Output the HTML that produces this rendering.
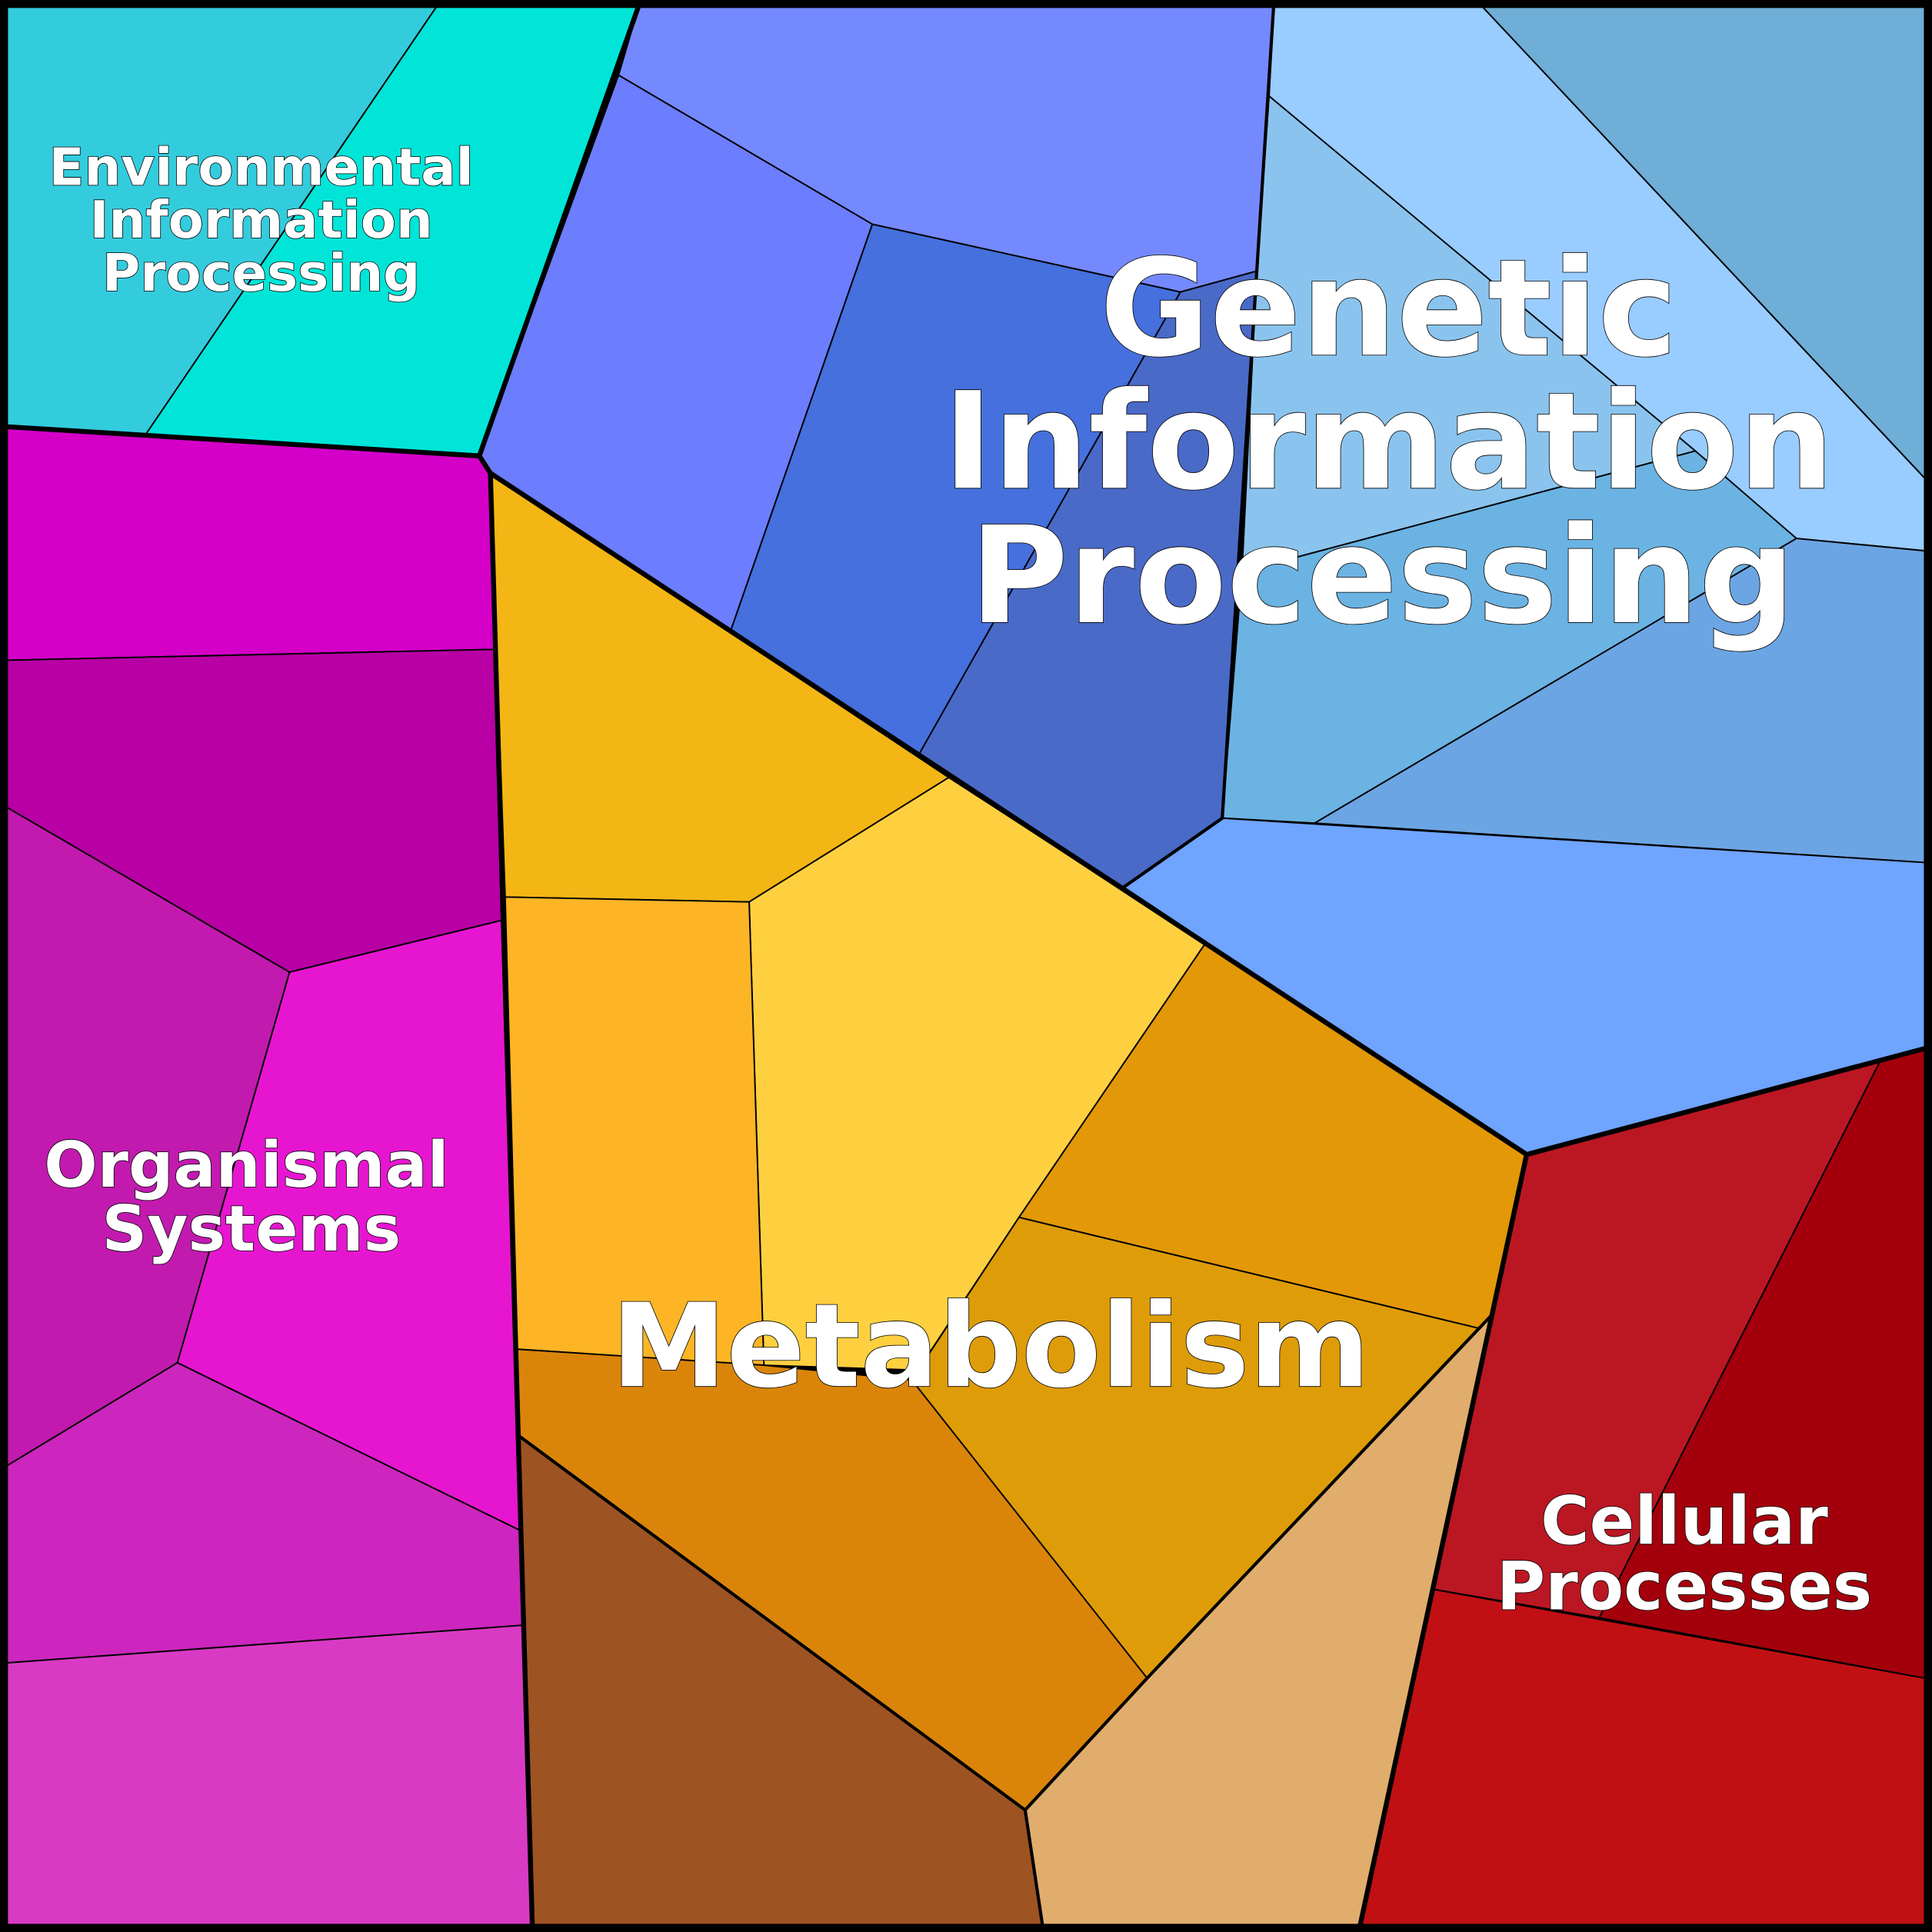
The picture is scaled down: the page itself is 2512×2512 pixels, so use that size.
<!DOCTYPE html>
<html><head><meta charset="utf-8"><style>
html,body{margin:0;padding:0;background:#000}
svg{display:block}
text{font-family:"DejaVu Sans","Liberation Sans",sans-serif;font-weight:bold;fill:#fff;text-anchor:middle}
</style></head><body>
<svg width="2512" height="2512" viewBox="0 0 1568 1568" xmlns="http://www.w3.org/2000/svg">
<g stroke="#000" stroke-width="1.2" stroke-linejoin="round">
<polygon fill="#33CCDD" points="0,0 358,0 118,353 0,346"/>
<polygon fill="#00E5D8" points="358,0 520,0 389,370 118,353"/>
<polygon fill="#7589FF" points="520,0 1034,0 1020,220 958,237 708,182 502,61"/>
<polygon fill="#6C7DFD" points="502,61 708,182 593,512 398,384 389,370"/>
<polygon fill="#4570DD" points="708,182 958,237 746,612 593,512"/>
<polygon fill="#4A6AC8" points="958,237 1020,220 992,664 912,720 746,612"/>
<polygon fill="#99CCFF" points="1034,0 1198,0 1562,388 1562,447 1458,437 1030,78"/>
<polygon fill="#6FAED6" points="1198,0 1562,0 1562,388"/>
<polygon fill="#8AC4EE" points="1030,78 1376,366 1008,464 1020,220"/>
<polygon fill="#6BB3E3" points="1008,464 1376,366 1458,437 1067,668 992,664"/>
<polygon fill="#6CA5E3" points="1458,437 1562,447 1562,700 1067,668"/>
<polygon fill="#6FA4FF" points="992,664 1562,700 1562,851 1239,937 912,720"/>
<polygon fill="#F3B614" points="398,384 770,631 608,732 410,728"/>
<polygon fill="#FED040" points="608,732 770,631 978,766 827,988 745,1112 620,1108"/>
<polygon fill="#FDB526" points="410,728 608,732 620,1108 420,1095"/>
<polygon fill="#E39808" points="978,766 1239,937 1210,1068 1200,1078 827,988"/>
<polygon fill="#DE9C08" points="827,988 1200,1078 1210,1068 931,1362 740,1120"/>
<polygon fill="#DA850A" points="420,1095 620,1108 740,1120 931,1362 832,1469 422,1166"/>
<polygon fill="#9E5323" points="422,1166 832,1469 846,1562 432,1562"/>
<polygon fill="#E0AD6D" points="1210,1068 1104,1562 846,1562 832,1469 931,1362"/>
<polygon fill="#BA1723" points="1239,937 1527,859 1298,1313 1164,1290"/>
<polygon fill="#A3000C" points="1527,859 1562,851 1562,1362 1298,1313"/>
<polygon fill="#C11014" points="1164,1290 1562,1362 1562,1562 1104,1562"/>
<polygon fill="#D400C8" points="0,346 389,370 398,384 401,527 0,536"/>
<polygon fill="#B800A5" points="0,536 401,527 407,747 235,789 0,652"/>
<polygon fill="#C21AAF" points="0,652 235,789 144,1106 0,1193"/>
<polygon fill="#E616D0" points="235,789 407,747 422,1242 144,1106"/>
<polygon fill="#CC26BE" points="0,1193 144,1106 422,1242 425,1319 0,1350"/>
<polygon fill="#D93AC4" points="0,1350 425,1319 432,1562 0,1562"/>
</g>
<g fill="none" stroke="#000" stroke-linejoin="round" stroke-linecap="round">
<polyline stroke-width="2.6" points="1034,0 1020,220 992,664 912,720"/>
<polyline stroke-width="2.6" points="422,1166 832,1469 931,1362 1210,1068"/>
<polyline stroke-width="2.6" points="832,1469 846,1562"/>
<polyline stroke-width="4" points="520,0 389,370 0,346"/>
<polyline stroke-width="4" points="389,370 398,384 432,1562"/>
<polyline stroke-width="4" points="398,384 1239,937 1562,851"/>
<polyline stroke-width="4" points="1239,937 1104,1562"/>
<rect x="3" y="3" width="1562" height="1562" stroke-width="7"/>
</g>
<g stroke="#000" stroke-width="1" paint-order="stroke">
<text font-size="42" x="212" y="150">Environmental</text>
<text font-size="42" x="212" y="193">Information</text>
<text font-size="42" x="212" y="236">Processing</text>
<text font-size="109" x="1127" y="288">Genetic</text>
<text font-size="109" x="1127" y="396">Information</text>
<text font-size="109" x="1122" y="505">Processing</text>
<text font-size="94" x="804" y="1125">Metabolism</text>
<text font-size="51" x="200" y="963">Organismal</text>
<text font-size="51" x="204" y="1015">Systems</text>
<text font-size="54" x="1367" y="1253">Cellular</text>
<text font-size="54" x="1367" y="1306">Processes</text>
</g>
</svg>
</body></html>
